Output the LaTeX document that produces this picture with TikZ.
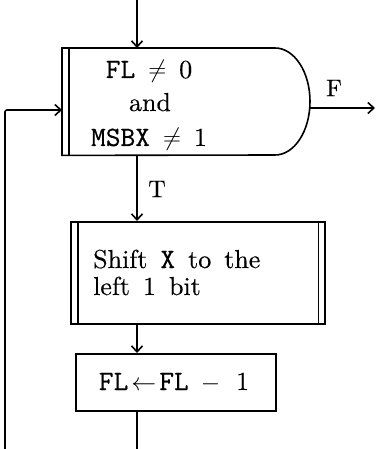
\documentclass[tikz,border=0pt]{standalone}
\usepackage{fontspec}
\setmainfont{lmroman10-regular.otf}[FakeBold=0.3]
\setmonofont{lmmono10-regular.otf}[Scale=1.08,FakeBold=0.3]
\usetikzlibrary{arrows.meta}
\begin{document}
\begin{tikzpicture}[x=1pt,y=-1pt,
  ln/.style={line width=1.6pt},
  arr/.style={ln,-{Straight Barb[length=6pt,width=11pt,line width=1.6pt]}},
  txt/.style={inner sep=0pt,font=\fontsize{26}{30}\selectfont,execute at begin node={\spaceskip=13pt\relax}},
  lbl/.style={inner sep=0pt,font=\fontsize{24}{28}\selectfont},
  box/.style={draw,ln,inner sep=0pt,anchor=north west}]
\useasboundingbox (0,0) rectangle (376,449);
% decision
\node[inner sep=0pt,minimum width=248pt,minimum height=107pt,anchor=north west] (dec) at (62,48) {};
\draw[ln] (dec.north west) -- ++(213,0)
   arc[start angle=90,end angle=-90,x radius=35pt,y radius=53.5pt] -- (dec.south west) -- cycle;
\draw[ln] ([xshift=7pt]dec.north west) -- ([xshift=7pt]dec.south west);
\node[txt,anchor=base] (d1) at (149,78) {\texttt{FL} $\neq$ 0};
\node[txt,anchor=base] (d2) at (150,111) {and};
\node[txt,anchor=base] (d3) at (149,146) {\texttt{MSBX} $\neq$ 1};
% shift box
\node[box,minimum width=254pt,minimum height=102pt] (shift) at (70,221) {};
\draw[ln] ([xshift=8pt]shift.north west) -- ([xshift=8pt]shift.south west);
\draw[ln] ([xshift=-7pt]shift.north east) -- ([xshift=-7pt]shift.south east);
\node[txt,anchor=base west] (s1) at (93,268) {Shift \texttt{X} to the};
\node[txt,anchor=base west] (s2) at (93,295) {left 1 bit};
% FL box
\node[box,minimum width=200pt,minimum height=57pt] (fl) at (75,353) {};
\node[txt,anchor=base] (f1) at (174,390) {\texttt{FL}\hspace{3pt}$\leftarrow$\hspace{3pt}\texttt{FL}\hspace{12pt}$-$\hspace{16pt}1};
% connectors
\coordinate (top) at (137,0);
\coordinate (bot) at (137,449);
\coordinate (fout) at (309.7,108);
\coordinate (fend) at (375,108);
\coordinate (lb) at (5,449);
\coordinate (lin) at (62,110);
\draw[arr] (top) -- (top |- dec.north);
\draw[arr] (top |- dec.south) -- (top |- shift.north);
\draw[arr] (top |- shift.south) -- (top |- fl.north);
\draw[ln] (top |- fl.south) -- (bot);
\draw[arr] (fout) -- (fend);
\draw[arr,rounded corners=2pt] (lb) |- (lin);
\node[lbl] (F) at (334,88) {F};
\node[lbl] (T) at (157,189) {T};
\end{tikzpicture}
\end{document}
